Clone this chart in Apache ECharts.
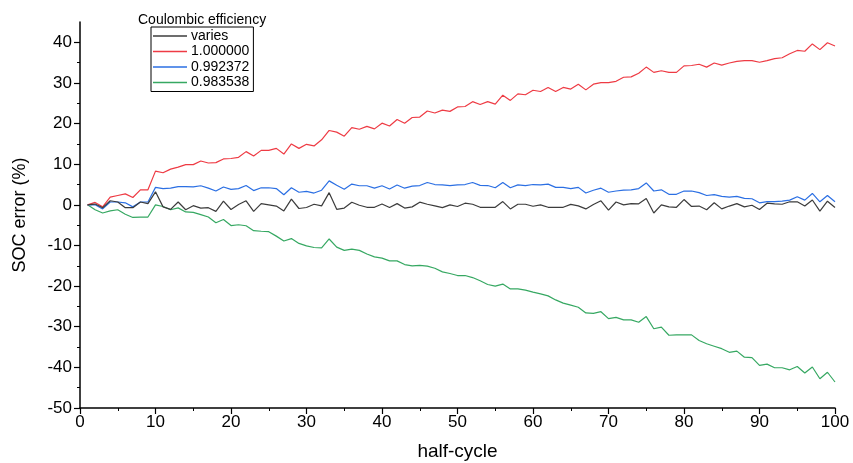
<!DOCTYPE html>
<html>
<head>
<meta charset="utf-8">
<script src="https://cdn.jsdelivr.net/npm/echarts@6/dist/echarts.min.js"></script>
<style>
  html, body { margin: 0; padding: 0; background: #fff; }
  #chart { width: 853px; height: 463px; }
</style>
</head>
<body>
<div id="chart"></div>
<script>
// half-cycle 1..100
const halfCycle = [];
for (let i = 1; i <= 100; i++) halfCycle.push(i);

// SOC error (%) per Coulombic efficiency
const varies = [0, 0.2, -0.7, 1.0, 0.7, -0.7, -0.7, 0.7, 0.3, 3.2,
  -0.5, -1.1, 0.7, -1.2, -0.2, -0.8, -0.7, -1.6, 0.9, -1.15,
  0.1, 1.0, -1.6, 0.3, 0, -0.3, -1.5, 1.4, -0.9, -0.65,
  0.15, -0.25, 3.0, -1.1, -0.8, 0.65, -0.1, -0.6, -0.6, 0.2,
  -0.65, 0.3, -0.8, -0.5, 0.65, 0.15, -0.25, -0.7, 0, -0.4,
  0.4, 0.15, -0.6, -0.6, -0.6, 0.8, -1.0, 0.15, 0.15, -0.35,
  0, -0.6, -0.6, -0.6, 0.1, -0.25, -1.0, 0.1, 1.0, -1.3,
  0.7, 0, 0.3, 0.25, 1.55, -2.0, 0, -0.5, -0.6, 1.3,
  -0.4, -0.3, -1.2, 0.5, -1.0, -0.3, 0.3, -0.5, -0.1, -1.15,
  0.4, 0.25, 0.15, 0.75, 0.75, -0.3, 1.2, -1.55, 0.9, -0.65];
const ce1000000 = [0, 0.6, -0.5, 1.9, 2.3, 2.7, 1.8, 3.7, 3.7, 8.3,
  7.9, 8.8, 9.3, 9.9, 9.9, 10.8, 10.3, 10.4, 11.3, 11.4,
  11.7, 13.1, 12.0, 13.4, 13.4, 13.9, 12.5, 15.0, 13.9, 14.9,
  14.5, 16.0, 18.3, 17.9, 16.9, 19.0, 18.6, 19.3, 18.7, 20.1,
  19.4, 21.0, 20.1, 21.5, 21.6, 23.1, 22.6, 23.3, 23.0, 24.1,
  24.2, 25.4, 24.7, 25.4, 24.8, 27.0, 25.7, 27.3, 27.1, 28.2,
  27.9, 28.9, 27.9, 28.9, 28.5, 29.7, 28.3, 29.7, 30.1, 30.1,
  30.4, 31.4, 31.5, 32.4, 33.9, 32.6, 33.0, 32.6, 32.6, 34.2,
  34.3, 34.6, 33.9, 34.9, 34.4, 34.9, 35.3, 35.5, 35.5, 35.1,
  35.5, 36.0, 36.2, 37.2, 38.0, 37.8, 39.6, 38.2, 39.9, 39.1];
const ce0992372 = [0, 0, -1, 0.7, 0.7, 0.5, -0.5, 0.7, 0.7, 4.3,
  4.0, 4.1, 4.5, 4.5, 4.4, 4.7, 4.1, 3.4, 4.4, 3.8,
  4.0, 4.75, 3.5, 4.2, 4.2, 4.0, 2.5, 4.2, 3.1, 3.3,
  2.9, 3.6, 5.9, 4.8, 3.85, 5.1, 4.7, 4.7, 4.1, 4.7,
  3.9, 4.9, 4.1, 4.6, 4.75, 5.5, 5.0, 4.9, 4.75, 4.9,
  5.0, 5.5, 4.8, 4.75, 4.2, 5.5, 4.2, 4.9, 4.75, 5.0,
  4.9, 5.1, 4.3, 4.3, 4.0, 4.3, 2.9, 3.6, 4.1, 3.1,
  3.4, 3.6, 3.7, 4.0, 5.4, 3.4, 3.7, 2.6, 2.6, 3.4,
  3.4, 3.0, 2.3, 2.5, 2.1, 1.9, 2.1, 1.6, 1.5, 0.5,
  0.8, 0.8, 0.9, 1.15, 2.0, 1.15, 2.8, 0.75, 2.3, 0.75];
const ce0983538 = [0, -1.2, -2.0, -1.5, -1.2, -2.3, -3.1, -3.0, -3.0, 0,
  -0.4, -1.2, -0.75, -1.75, -1.85, -2.4, -3.0, -4.4, -3.6, -5.1,
  -4.9, -5.15, -6.35, -6.5, -6.6, -7.7, -8.9, -8.3, -9.5, -10.1,
  -10.5, -10.6, -8.4, -10.4, -11.2, -10.9, -11.2, -12.1, -12.8, -13.1,
  -13.8, -13.8, -14.7, -15.0, -14.9, -15.1, -15.6, -16.5, -16.9, -17.4,
  -17.4, -17.9, -18.7, -19.6, -20.0, -19.5, -20.7, -20.7, -21.0, -21.5,
  -21.9, -22.4, -23.4, -24.2, -24.7, -25.2, -26.6, -26.7, -26.3, -28.0,
  -27.7, -28.3, -28.3, -28.9, -27.5, -30.5, -30.1, -32.1, -32.0, -32.0,
  -32.0, -33.4, -34.2, -34.8, -35.4, -36.3, -36.0, -37.5, -37.6, -39.5,
  -39.2, -40.1, -40.1, -40.6, -39.8, -41.4, -39.9, -42.8, -41.2, -43.6];

const seriesNames = ['varies', '1.000000', '0.992372', '0.983538'];
const seriesColors = ['#3c3c3c', '#ee3b44', '#2b6fe3', '#36a862'];
const seriesValues = [varies, ce1000000, ce0992372, ce0983538];

// y 轴刻度标签
const yTickLabels = [-50, -40, -30, -20, -10, 0, 10, 20, 30, 40];

const font = 'Liberation Sans, Arial, sans-serif';

function pairs(values) {
  return values.map((v, i) => [halfCycle[i], v]);
}

let chart = echarts.init(document.getElementById('chart'), null, { renderer: 'canvas' });

let option = {
  animation: false,
  backgroundColor: '#fff',
  title: {
    text: 'Coulombic efficiency',
    left: 133,
    top: 8,
    textStyle: { fontFamily: font, fontSize: 14, fontWeight: 'normal', color: '#000' }
  },
  legend: {
    orient: 'vertical',
    left: 151,
    top: 27,
    padding: [2, 4, 2, 2],
    icon: 'rect',
    itemWidth: 34,
    itemHeight: 1.4,
    itemGap: 1.5,
    borderColor: '#000',
    borderWidth: 1,
    data: seriesNames,
    textStyle: { fontFamily: font, fontSize: 14, lineHeight: 14, color: '#000', padding: [0, 0, 0, -1] }
  },
  grid: { left: 80, right: 18, top: 22, bottom: 55, outerBoundsMode: 'none' },
  xAxis: {
    type: 'value',
    min: 0,
    max: 100,
    interval: 10,
    name: 'half-cycle',
    nameLocation: 'middle',
    nameGap: 34,
    nameTextStyle: { fontFamily: font, fontSize: 19, color: '#000' },
    axisLine: { onZero: false, lineStyle: { color: '#000', width: 1.5 } },
    axisTick: { length: 6, lineStyle: { color: '#000', width: 1.2 } },
    minorTick: { show: true, splitNumber: 2, length: 3, lineStyle: { color: '#000', width: 1 } },
    axisLabel: { fontFamily: font, fontSize: 17, color: '#000', margin: 6 },
    splitLine: { show: false }
  },
  yAxis: {
    type: 'value',
    min: -50,
    max: 45,
    interval: 10,
    name: 'SOC error (%)',
    nameLocation: 'middle',
    nameGap: 51,
    nameTextStyle: { fontFamily: font, fontSize: 18, color: '#000' },
    axisLine: { onZero: false, lineStyle: { color: '#000', width: 1.5 } },
    axisTick: { length: 6, customValues: yTickLabels, lineStyle: { color: '#000', width: 1.2 } },
    minorTick: { show: true, splitNumber: 2, length: 3, lineStyle: { color: '#000', width: 1 } },
    axisLabel: { fontFamily: font, fontSize: 17, color: '#000', margin: 8, customValues: yTickLabels },
    splitLine: { show: false }
  },
  series: seriesNames.map((name, k) => ({
    name: name,
    type: 'line',
    data: pairs(seriesValues[k]),
    symbol: 'none',
    color: seriesColors[k],
    lineStyle: { width: 1.2, color: seriesColors[k] },
    z: 4 - k
  }))
};

chart.setOption(option);
</script>
</body>
</html>
